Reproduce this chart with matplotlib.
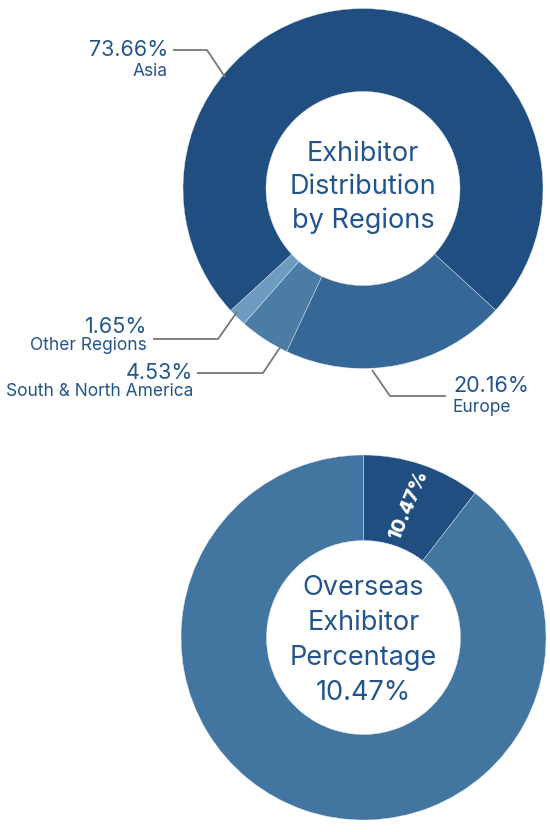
import numpy as np
import matplotlib.pyplot as plt

# Exhibitor distribution by regions (%), clockwise order starting at Europe
regions = ['Europe', 'South & North America', 'Other Regions', 'Asia']
shares = [20.16, 4.53, 1.65, 73.66]
region_colors = ['#356896', '#4a7ca6', '#6e9bc0', '#204e80']

# Overseas exhibitor share (%)
overseas_labels = ['Overseas', 'Domestic']
overseas = [10.47, 89.53]
overseas_colors = ['#204e80', '#4275a0']

text_color = '#23558c'
plt.rcParams['font.family'] = ['Inter', 'DejaVu Sans']

W, H = 550, 832
fig = plt.figure(figsize=(W / 100, H / 100), dpi=100)
ax = fig.add_axes([0, 0, 1, 1])


def Y(y):
    # pixel row (from top) -> data y
    return H - y


# top donut
c1 = (363, Y(188.5))
R1, r1 = 180, 97
ax.pie(shares, colors=region_colors, startangle=-42.5, counterclock=False,
       center=c1, radius=R1,
       wedgeprops=dict(width=R1 - r1, edgecolor='#dde6ef', linewidth=0.3))

# bottom donut
c2 = (363.5, Y(637.5))
R2, r2 = 182.5, 97
ax.pie(overseas, colors=overseas_colors, startangle=90, counterclock=False,
       center=c2, radius=R2,
       wedgeprops=dict(width=R2 - r2, edgecolor='#dde6ef', linewidth=0.3))

ax.set_xlim(0, W)
ax.set_ylim(0, H)
ax.set_aspect('equal')
ax.axis('off')

# labels with leader lines: (pct pos, name pos, align, line points)
labels = {
    'Asia': ((168, 50), (168, 71), 'right', [(173, 50), (207, 50), (225, 77)]),
    'Other Regions': ((147, 327), (147, 346), 'right', [(153, 339), (218, 339), (237, 312)]),
    'South & North America': ((193, 373), (193, 391), 'right', [(197, 373), (263, 373), (281, 346)]),
    'Europe': ((453, 386), (453, 408), 'left', [(372, 370), (390, 396), (446, 396)]),
}
for name, val in zip(regions, shares):
    p, n, ha, pts = labels[name]
    ax.text(p[0], Y(p[1]), f'{val:.2f}%', ha=ha, va='center', fontsize=15.5,
            color=text_color)
    ax.text(n[0], Y(n[1]), name, ha=ha, va='center', fontsize=12.5,
            color=text_color)
    xs = [q[0] for q in pts]
    ys = [Y(q[1]) for q in pts]
    ax.plot(xs, ys, color='#777777', lw=1.3, solid_capstyle='butt')

# centre titles
ax.text(c1[0], Y(187.5), 'Exhibitor\nDistribution\nby Regions', ha='center',
        va='center', fontsize=19.5, color=text_color, linespacing=1.37)
ax.text(c2[0], Y(640.5), f'Overseas\nExhibitor\nPercentage\n{overseas[0]:.2f}%',
        ha='center', va='center', fontsize=19.5, color=text_color, linespacing=1.46)

# label inside the overseas wedge
mid = np.deg2rad(90 - overseas[0] / 100 * 360 / 2)
rm = (R2 + r2) / 2
ax.text(c2[0] + rm * np.cos(mid), c2[1] + rm * np.sin(mid), f'{overseas[0]:.2f}%',
        ha='center', va='center', rotation=np.rad2deg(mid) - 4, fontsize=14,
        fontweight='heavy', color='white')

fig.savefig('out.png', dpi=100)
